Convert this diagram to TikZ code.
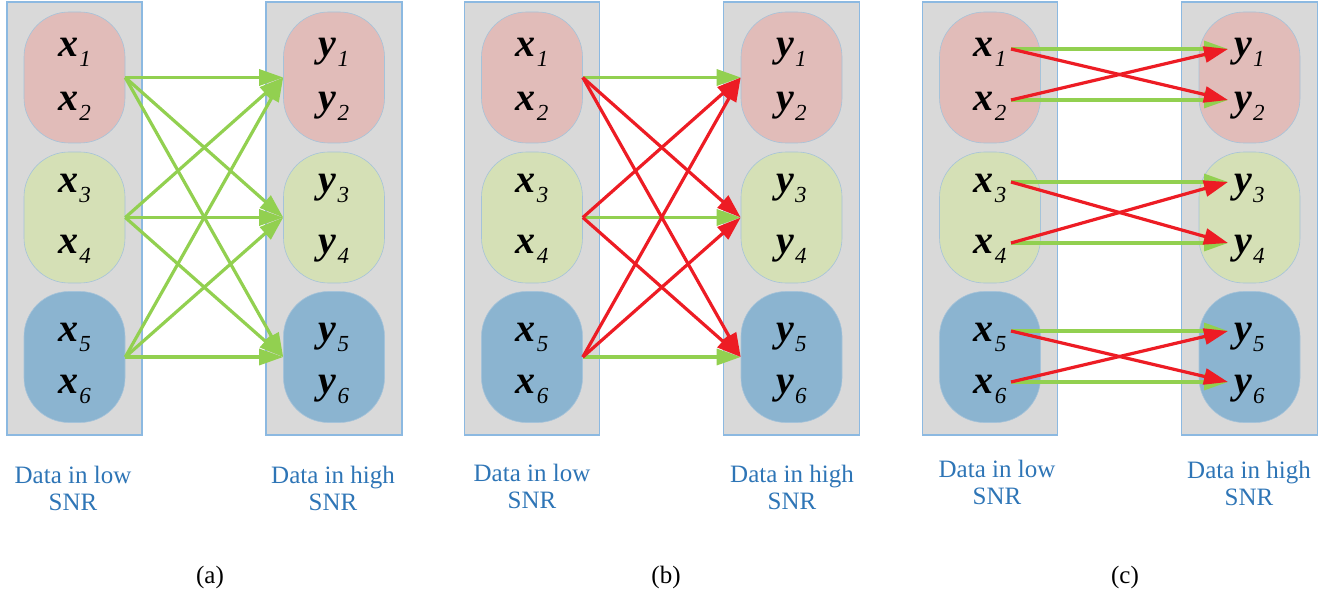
\documentclass[tikz,border=0pt]{standalone}
\usepackage{fontspec}
\setmainfont{Liberation Serif}
\usetikzlibrary{arrows.meta}
\definecolor{boxgray}{RGB}{217,217,217}
\definecolor{boxline}{RGB}{140,185,225}
\definecolor{pinkf}{RGB}{225,188,185}
\definecolor{greenf}{RGB}{213,224,182}
\definecolor{bluef}{RGB}{139,180,208}
\definecolor{pillline}{RGB}{165,195,218}
\definecolor{arrgreen}{RGB}{146,208,80}
\definecolor{arrred}{RGB}{237,28,36}
\definecolor{txtblue}{RGB}{46,117,182}
\newcommand{\xl}[2]{{\fontsize{40}{40}\selectfont\bfseries\itshape #1}\kern1pt\raisebox{-10pt}{\fontsize{23}{23}\selectfont\itshape #2}}
\tikzset{
  panelbox/.style={draw=boxline, fill=boxgray, line width=1.2pt, inner sep=0pt, minimum height=433pt},
  pill/.style={draw=pillline, line width=0.6pt, rounded corners=45pt, inner sep=0pt, minimum width=101pt, minimum height=131pt},
  varlab/.style={anchor=base, inner sep=0pt},
  garrow/.style={draw=arrgreen, line width=3.2pt, -{Triangle[length=24pt,width=16pt]}},
  rarrow/.style={draw=arrred, line width=3.2pt, -{Triangle[length=24pt,width=16pt]}},
  snrtext/.style={anchor=base, inner sep=0pt, text=txtblue, font=\fontsize{25}{30}\selectfont},
  captext/.style={anchor=base, inner sep=0pt, font=\fontsize{25}{30}\selectfont}
}
\newcommand{\drawpanel}{%
  \node[panelbox, minimum width=135pt] (LB) at (74.5,218.5) {};
  \node[panelbox, minimum width=136pt] (RB) at (334,218.5) {};
  \node[pill, fill=pinkf] (L1) at (74.5,77.5) {};
  \node[pill, fill=greenf] (L2) at (74.5,217.5) {};
  \node[pill, fill=bluef] (L3) at (74.5,357) {};
  \node[pill, fill=pinkf] (R1) at (334,77.5) {};
  \node[pill, fill=greenf] (R2) at (334,217.5) {};
  \node[pill, fill=bluef] (R3) at (334,357) {};
  \node[varlab] (x1) at (74.5,57) {\xl{x}{1}};
  \node[varlab] (x2) at (74.5,111) {\xl{x}{2}};
  \node[varlab] (x3) at (74.5,192) {\xl{x}{3}};
  \node[varlab] (x4) at (74.5,253) {\xl{x}{4}};
  \node[varlab] (x5) at (74.5,341) {\xl{x}{5}};
  \node[varlab] (x6) at (74.5,393) {\xl{x}{6}};
  \node[varlab] (y1) at (334,57) {\xl{y}{1}};
  \node[varlab] (y2) at (334,111) {\xl{y}{2}};
  \node[varlab] (y3) at (334,192) {\xl{y}{3}};
  \node[varlab] (y4) at (334,253) {\xl{y}{4}};
  \node[varlab] (y5) at (334,341) {\xl{y}{5}};
  \node[varlab] (y6) at (334,393) {\xl{y}{6}};
}
\begin{document}
\begin{tikzpicture}[x=1pt,y=-1pt]
\useasboundingbox (0,0) rectangle (1337,596);
% panel (a)
\begin{scope}[name prefix=a-]
  \drawpanel
  \foreach \i in {1,2,3}{\foreach \j in {1,2,3}{
    \draw[garrow] (a-L\i.east) -- (a-R\j.west);}}
  \node[snrtext] (lowA) at (73,483) {Data in low};
  \node[snrtext] (lowB) at (73,510) {SNR};
  \node[snrtext] (highA) at (333,483) {Data in high};
  \node[snrtext] (highB) at (333,510) {SNR};
  \node[captext] (capa) at (210,583) {(a)};
\end{scope}
% panel (b)
\begin{scope}[xshift=457.5pt, name prefix=b-]
  \drawpanel
  \foreach \i in {1,2,3}{\draw[garrow] (b-L\i.east) -- (b-R\i.west);}
  \foreach \i/\j in {1/2,1/3,2/1,2/3,3/1,3/2}{
    \draw[rarrow] (b-L\i.east) -- (b-R\j.west);}
  \node[snrtext] (lowA) at (74.5,481) {Data in low};
  \node[snrtext] (lowB) at (74.5,508) {SNR};
  \node[snrtext] (highA) at (334.5,482) {Data in high};
  \node[snrtext] (highB) at (334.5,509) {SNR};
  \node[captext] (capb) at (208.5,583) {(b)};
\end{scope}
% panel (c)
\begin{scope}[xshift=915.5pt, name prefix=c-]
  \drawpanel
  \coordinate (s1) at (95.5,49);
  \coordinate (s2) at (95.5,100);
  \coordinate (s3) at (95.5,182);
  \coordinate (s4) at (95.5,243);
  \coordinate (s5) at (95.5,331);
  \coordinate (s6) at (95.5,382);
  \coordinate (t1) at (312.5,49);
  \coordinate (t2) at (312.5,100);
  \coordinate (t3) at (312.5,182);
  \coordinate (t4) at (312.5,243);
  \coordinate (t5) at (312.5,331);
  \coordinate (t6) at (312.5,382);
  \foreach \i in {1,...,6}{\draw[garrow] (c-s\i) -- (c-t\i);}
  \foreach \i/\j in {1/2,2/1,3/4,4/3,5/6,6/5}{\draw[rarrow] (c-s\i) -- (c-t\j);}
  \node[snrtext] (lowA) at (81.5,477) {Data in low};
  \node[snrtext] (lowB) at (81.5,504) {SNR};
  \node[snrtext] (highA) at (333.5,478) {Data in high};
  \node[snrtext] (highB) at (333.5,505) {SNR};
  \node[captext] (capc) at (209.5,583) {(c)};
\end{scope}
\end{tikzpicture}
\end{document}
